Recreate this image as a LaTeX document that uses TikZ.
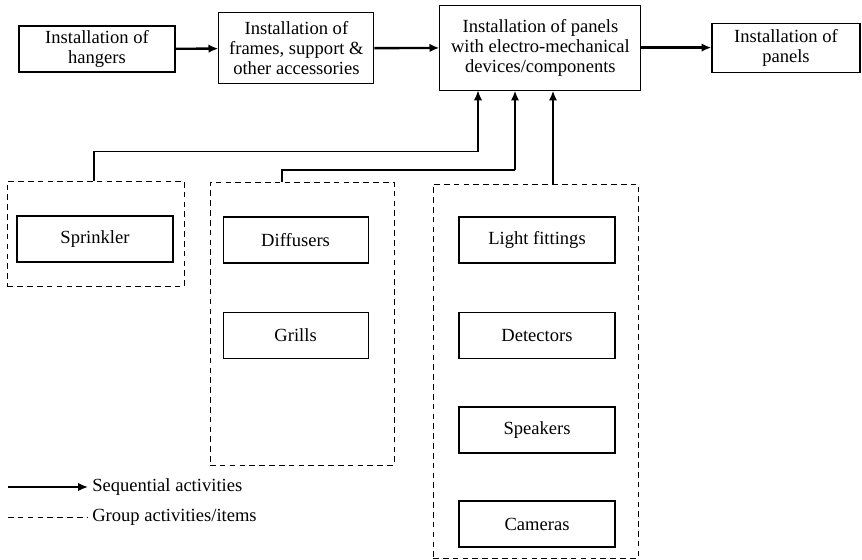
\documentclass[tikz,border=0pt]{standalone}
\usepackage{fontspec}
\setmainfont{Liberation Serif}
\usetikzlibrary{arrows.meta,positioning}

\begin{document}
\begin{tikzpicture}[
    step box/.style={rectangle, draw, line width=0.8pt,
                  text centered, align=center, inner sep=2pt,
                  font=\fontsize{13.2}{14.3}\selectfont},
    item/.style={step box, minimum width=3.9cm, minimum height=1.15cm},
    group/.style={rectangle, draw, line width=0.7pt,
                  dash pattern=on 4pt off 3pt},
    seq/.style={-{Latex[length=7pt,width=6pt]}, line width=1.7pt},
    feed/.style={line width=0.8pt},
    legend text/.style={font=\fontsize{13.2}{14.3}\selectfont,
                  anchor=west, inner sep=0.1cm}
]
    \useasboundingbox (0,0) rectangle (21.55,14);

    % sequence of main activities
    \node[step box, minimum width=3.9cm, minimum height=1.15cm]
        (hangers) at (2.425, 12.775) {Installation of\\hangers};
    \node[step box, minimum width=3.875cm, minimum height=1.775cm]
        (frames) at (7.41, 12.79)
        {Installation of\\frames, support \&\\other accessories};
    \node[step box, minimum width=5.025cm, minimum height=2.125cm]
        (devices) at (13.51, 12.81)
        {Installation of panels\\with electro-mechanical\\devices/components};
    \node[step box, minimum width=3.7cm, minimum height=1.225cm]
        (panels) at (19.65, 12.81) {Installation of\\panels};

    \draw[seq] (hangers) -- (frames);
    \draw[seq] (frames) -- (devices);
    \draw[seq] (devices) -- (panels);

    % groups of items
    \node[group, minimum width=4.425cm, minimum height=2.625cm]
        (grpA) at (2.4, 8.16) {};
    \node[group, minimum width=4.6cm, minimum height=7.075cm]
        (grpB) at (7.55, 5.91) {};
    \node[group, minimum width=5.125cm, minimum height=9.35cm]
        (grpC) at (13.39, 4.725) {};

    \node[item] (sprinkler) at (2.375, 8.025) {Sprinkler};
    \node[item, minimum width=3.625cm] (diffusers) at (7.39, 8.0) {Diffusers};
    \node[item, minimum width=3.625cm] (grills)    at (7.39, 5.61) {Grills};
    \node[item] (light)     at (13.425, 8.0)  {Light fittings};
    \node[item] (detectors) at (13.425, 5.61) {Detectors};
    \node[item] (speakers)  at (13.425, 3.25) {Speakers};
    \node[item] (cameras)   at (13.425, 0.9)  {Cameras};

    % groups feeding the panel installation
    \draw[feed, -{Latex[length=7pt,width=6pt]}]
        ([xshift=-0.05cm]grpA.north) -- ++(0,0.725)
        -| ([xshift=-1.56cm]devices.south);
    \coordinate (jB) at ([xshift=-0.635cm]devices.south |- 0,9.75);
    \draw[feed] ([xshift=-0.5cm]grpB.north) |- (jB);
    \draw[seq] (jB) -- ([xshift=-0.635cm]devices.south);
    \draw[seq] ([xshift=0.435cm]grpC.north) -- ([xshift=0.315cm]devices.south);

    % legend
    \coordinate (seqstart) at (0.2, 1.825);
    \coordinate (grpstart) at (0.2, 1.075);
    \node[legend text] (seqtxt) at (2.2, 1.825) {Sequential activities};
    \node[legend text] (grptxt) at (2.2, 1.075) {Group activities/items};
    \draw[seq, line width=1.2pt] (seqstart) -- (seqtxt.west);
    \draw[group] (grpstart) -- (grptxt.west);

\end{tikzpicture}
\end{document}
